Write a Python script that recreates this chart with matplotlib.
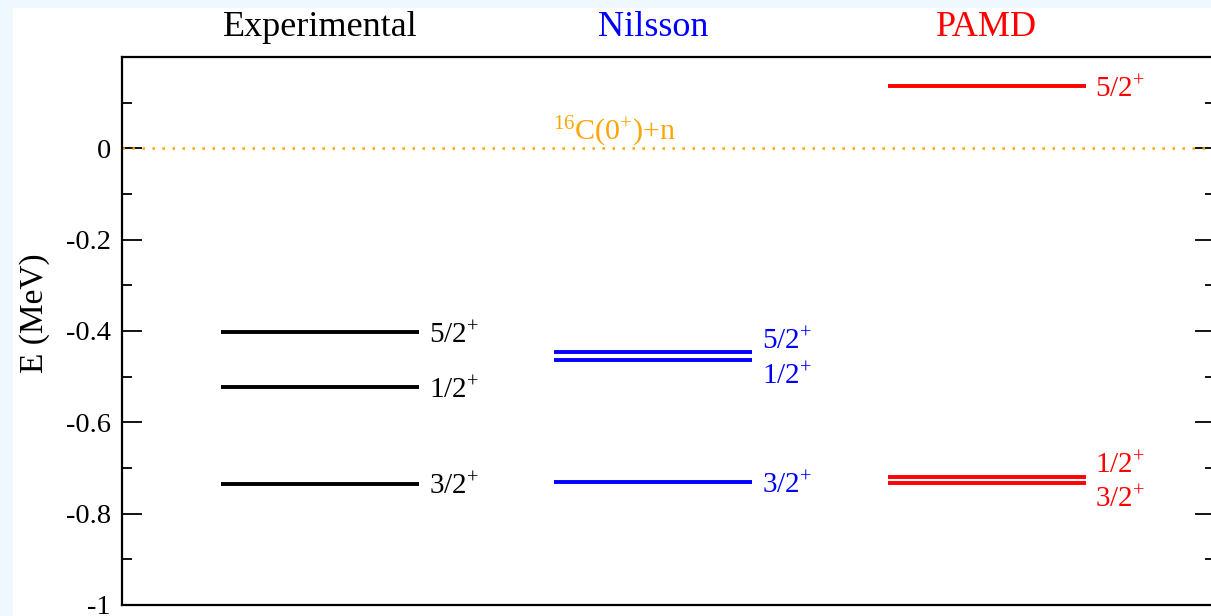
import numpy as np
import matplotlib
matplotlib.use('Agg')
import matplotlib.pyplot as plt
from matplotlib.ticker import MultipleLocator, FixedLocator
from matplotlib.patches import Rectangle
from matplotlib.transforms import blended_transform_factory

plt.rcParams['font.family'] = ['Liberation Serif', 'DejaVu Serif']
plt.rcParams['mathtext.fontset'] = 'custom'
plt.rcParams['mathtext.rm'] = 'Liberation Serif'
plt.rcParams['mathtext.it'] = 'Liberation Serif:italic'

# data : 레벨 에너지 (MeV)
models = ['Experimental', 'Nilsson', 'PAMD']
model_colors = ['black', '#0000ff', '#ff0000']
exp_levels = [-0.402, -0.522, -0.734]
exp_labels = ['5/2', '1/2', '3/2']
nil_levels = [-0.447, -0.463, -0.731]
nil_labels = ['5/2', '1/2', '3/2']
pamd_levels = [0.136, -0.720, -0.732]
pamd_labels = ['5/2', '1/2', '3/2']
threshold = 0.0
threshold_label = r'$^{16}$C(0$^{+}$)+n'

fig = plt.figure(figsize=(12.11, 6.16), dpi=100, facecolor='#f0f8ff')
# 흰 패널 (배경 위, 축 아래)
fig.patches.append(Rectangle((13 / 1211, 0), 1, 1 - 8 / 616, transform=fig.transFigure,
                             facecolor='white', edgecolor='none', zorder=-10))
ax = fig.add_axes([122 / 1211, 11 / 616, 1093 / 1211, 548 / 616])
ax.set_facecolor('white')

ax.set_xlim(0, 3.312)
ax.set_ylim(-1, 0.2)

starts = [0.30, 1.31, 2.32]
width = 0.6

all_levels = [exp_levels, nil_levels, pamd_levels]
all_labels = [exp_labels, nil_labels, pamd_labels]
trans_top = blended_transform_factory(ax.transData, ax.transAxes)

for x0, name, col, levels, labels in zip(starts, models, model_colors, all_levels, all_labels):
    for i, (e, lab) in enumerate(zip(levels, labels)):
        ax.plot([x0, x0 + width], [e, e], color=col, lw=2.8, solid_capstyle='butt')
        # 가까운 레벨이면 라벨을 위/아래로 나눔
        others = [o for j, o in enumerate(levels) if j != i]
        near = [o for o in others if abs(o - e) < 0.03]
        if near and e > near[0]:
            dy = 2.5
        elif near:
            dy = -18
        else:
            dy = -8
        ax.annotate(lab + r'$^{+}$', xy=(x0 + width, e), xytext=(7, dy),
                    textcoords='offset points', ha='left', va='baseline',
                    color=col, fontsize=21)
    ax.text(x0 + width / 2, 1.053, name, transform=trans_top, ha='center', va='center',
            color=col, fontsize=26, clip_on=False)

ax.axhline(threshold, color='#ffa500', lw=1.8, linestyle=(0, (1, 3)))
ax.annotate(threshold_label, xy=(1.305, threshold), xytext=(0, 6), textcoords='offset points',
            ha='left', va='baseline', color='#ffa500', fontsize=21.5)

ax.yaxis.set_major_locator(FixedLocator([-1, -0.8, -0.6, -0.4, -0.2, 0]))
ax.yaxis.set_minor_locator(MultipleLocator(0.1))
ax.set_yticklabels(['-1', '-0.8', '-0.6', '-0.4', '-0.2', '0'])
ax.tick_params(axis='y', which='both', direction='in', left=True, right=True,
               labelsize=20.5, width=1.3, pad=8)
ax.tick_params(axis='y', which='major', length=14.5)
ax.tick_params(axis='y', which='minor', length=7.5)
ax.tick_params(axis='x', which='both', bottom=False, top=False, labelbottom=False)
for s in ax.spines.values():
    s.set_linewidth(1.6)

ax.set_ylabel('E (MeV)', fontsize=24)
ax.yaxis.set_label_coords(-0.066, 0.533)

fig.savefig('out.png', dpi=100, facecolor=fig.get_facecolor())
